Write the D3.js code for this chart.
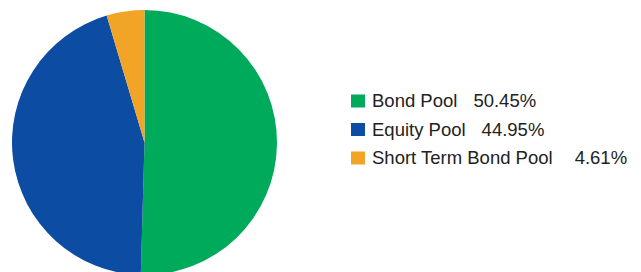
<!DOCTYPE html>
<html>
<head>
<meta charset="utf-8">
<script src="https://cdn.jsdelivr.net/npm/d3@7"></script>
<style>
  body { margin: 0; background: #fff; }
  text { font-family: "Liberation Sans", Arial, sans-serif; }
</style>
</head>
<body>
<script>
// chart size
var w = 641;
var h = 272;

// data
var categories = ["Bond Pool", "Equity Pool", "Short Term Bond Pool"];
var percents = [50.45, 44.95, 4.61];
var pctLabels = ["50.45%", "44.95%", "4.61%"];
var colors = ["#00aa5b", "#0c4ca2", "#f2a427"];

var dataset = categories.map(function(c, i) {
    return { label: c, value: percents[i], pct: pctLabels[i], color: colors[i] };
});

var svg = d3.select("body")
            .append("svg")
            .attr("width", w)
            .attr("height", h);

// pie
var cx = 144.5, cy = 142.5, r = 132.5;

var pie = d3.pie()
            .sort(null)
            .value(function(d) { return d.value; });

var arc = d3.arc()
            .innerRadius(0)
            .outerRadius(r);

svg.append("g")
   .attr("transform", "translate(" + cx + "," + cy + ")")
   .selectAll("path")
   .data(pie(dataset))
   .enter()
   .append("path")
   .attr("d", arc)
   .attr("fill", function(d) { return d.data.color; });

// legend
var yScale = d3.scalePoint()
               .domain(d3.range(dataset.length))
               .range([101, 158]);

var legend = svg.selectAll("g.legend")
   .data(dataset)
   .enter()
   .append("g")
   .attr("class", "legend")
   .attr("transform", function(d, i) { return "translate(351," + yScale(i) + ")"; });

legend.append("rect")
   .attr("x", 0)
   .attr("y", -6.5)
   .attr("width", 14)
   .attr("height", 13)
   .attr("fill", function(d) { return d.color; });

var labels = legend.append("text")
   .attr("x", 21)
   .attr("y", 0)
   .attr("dy", "0.35em")
   .attr("font-size", "18.5px")
   .attr("fill", "#222")
   .text(function(d) { return d.label; });

// percentage placed a few spaces after each label
legend.append("text")
   .attr("x", function(d, i) {
       var len = labels.nodes()[i].getComputedTextLength();
       return 21 + len + (d.value < 10 ? 22 : 16);
   })
   .attr("y", 0)
   .attr("dy", "0.35em")
   .attr("font-size", "18.5px")
   .attr("fill", "#222")
   .text(function(d) { return d.pct; });
</script>
</body>
</html>
